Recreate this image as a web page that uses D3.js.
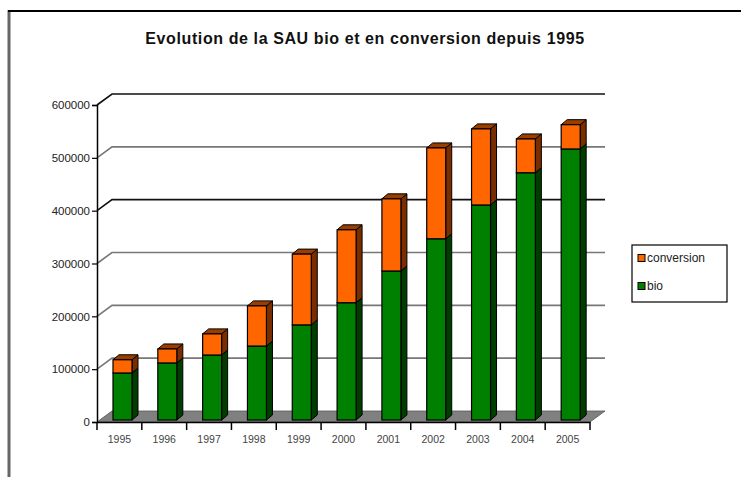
<!DOCTYPE html>
<html><head><meta charset="utf-8">
<script src="https://cdn.jsdelivr.net/npm/d3@7"></script>
<style>body{margin:0;background:#fff}svg{display:block}text{font-family:"Liberation Sans",Arial,sans-serif}</style>
</head><body><svg id="c" width="741" height="477"></svg>
<script>
const years = ["1995","1996","1997","1998","1999","2000","2001","2002","2003","2004","2005"];
const bio = [89000,108000,123000,140000,180000,222000,282000,343000,407000,468000,513000];
const conversion = [25000,26500,40000,76000,134000,138000,136600,172000,144000,64000,46000];
const seriesNames = ["conversion","bio"];
const yTicks = [0,100000,200000,300000,400000,500000,600000];

const svg = d3.select("#c");
const x0 = 97, x1 = 590, yb = 422, yt = 105;
const dX = 15, dY = -11;       // wall depth
const bX = 6, bY = -5;         // bar depth
const x = d3.scaleBand().domain(years).range([x0, x1]).padding(0);
const y = d3.scaleLinear().domain([0, 600000]).range([yb, yt]);

// frame
svg.append("line").attr("x1",9).attr("x2",9).attr("y1",10).attr("y2",477).attr("stroke","#666").attr("stroke-width",3);
svg.append("line").attr("x1",8).attr("x2",741).attr("y1",11).attr("y2",11).attr("stroke","#000").attr("stroke-width",2);

// title
svg.append("text").attr("x",365).attr("y",44).attr("text-anchor","middle")
  .attr("font-size",16).attr("font-weight","bold").attr("fill","#111").attr("letter-spacing",0.6)
  .text("Evolution de la SAU bio et en conversion depuis 1995");

// floor
svg.append("path").attr("d",`M${x0},${yb}L${x1},${yb}L${x1+dX},${yb+dY}L${x0+dX},${yb+dY}Z`)
  .attr("fill","#808080").attr("stroke","#555").attr("stroke-width",0.8);

// gridlines (back wall)
const gridCol = d => (d===400000||d===600000) ? "#111" : "#777";
svg.append("g").selectAll("path").data(yTicks.filter(d=>d>0)).join("path")
  .attr("d", d => `M${x0},${y(d)}L${x0+dX},${y(d)+dY}L${x1+dX},${y(d)+dY}`)
  .attr("fill","none").attr("stroke", gridCol).attr("stroke-width",1.6);

// y axis
const ya = svg.append("g").attr("transform",`translate(${x0},0)`)
  .call(d3.axisLeft(y).tickValues(yTicks).tickFormat(d3.format("d")).tickSize(5).tickPadding(2));
ya.select(".domain").attr("stroke","#000").attr("stroke-width",1.5);
ya.selectAll(".tick line").attr("stroke","#000").attr("stroke-width",1.2);
ya.selectAll("text").attr("font-size",11.5).attr("fill","#222").attr("font-family","Liberation Sans, Arial, sans-serif");

// x axis
const xa = svg.append("g").attr("transform",`translate(0,${yb})`)
  .call(d3.axisBottom(x).tickSize(0).tickPadding(14));
xa.select(".domain").attr("stroke","#000").attr("stroke-width",1.5);
xa.selectAll("text").attr("font-size",10.5).attr("fill","#444").attr("font-family","Liberation Sans, Arial, sans-serif");
svg.append("g").selectAll("line").data(d3.range(years.length+1)).join("line")
  .attr("x1", i => x0 + i*x.bandwidth()).attr("x2", i => x0 + i*x.bandwidth())
  .attr("y1", yb).attr("y2", yb+8).attr("stroke","#000").attr("stroke-width",1.5);

// bars
const stackData = years.map((yr,i)=>({year:yr, bio:bio[i], conversion:conversion[i]}));
const stack = d3.stack().keys(["bio","conversion"])(stackData);
const colors = {bio:{front:"#008000",side:"#003d00",top:"#005a00"}, conversion:{front:"#ff6600",side:"#7a2e00",top:"#9a3d00"}};
const bw = 19, off = 16, sh = -2;
stack.forEach(layer => {
  const c = colors[layer.key];
  const g = svg.append("g");
  layer.forEach(d => {
    const xl = x(d.data.year) + off, xr = xl + bw;
    const yTop = y(d[1]) + sh, yBot = y(d[0]) + sh;
    g.append("path").attr("d",`M${xr},${yBot}L${xr+bX},${yBot+bY}L${xr+bX},${yTop+bY}L${xr},${yTop}Z`)
      .attr("fill",c.side).attr("stroke","#000").attr("stroke-width",1).attr("stroke-linejoin","round");
    g.append("path").attr("d",`M${xl},${yTop}L${xl+bX},${yTop+bY}L${xr+bX},${yTop+bY}L${xr},${yTop}Z`)
      .attr("fill",c.top).attr("stroke","#000").attr("stroke-width",1).attr("stroke-linejoin","round");
    g.append("rect").attr("x",xl).attr("y",yTop).attr("width",bw).attr("height",yBot-yTop)
      .attr("fill",c.front).attr("stroke","#000").attr("stroke-width",1.2);
  });
});

// legend
const lg = svg.append("g");
lg.append("rect").attr("x",632).attr("y",245).attr("width",95).attr("height",57)
  .attr("fill","#fff").attr("stroke","#000").attr("stroke-width",1.2);
seriesNames.forEach((n,i) => {
  const cy = 258 + i*28;
  lg.append("rect").attr("x",638).attr("y",cy-3.5).attr("width",7).attr("height",7)
    .attr("fill",colors[n].front).attr("stroke","#000").attr("stroke-width",1);
  lg.append("text").attr("x",647).attr("y",cy+4).attr("font-size",12).attr("fill","#222").text(n);
});
</script></body></html>
